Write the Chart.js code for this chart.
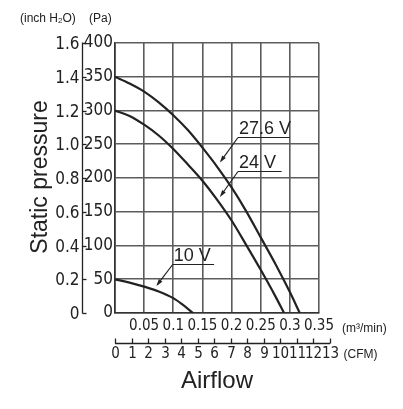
<!DOCTYPE html>
<html>
<head>
<meta charset="utf-8">
<script src="https://cdn.jsdelivr.net/npm/chart.js@4.4.0/dist/chart.umd.min.js"></script>
<style>
html, body { margin: 0; padding: 0; background: #fff; }
#wrap { width: 403px; height: 409px; }
</style>
</head>
<body>
<div id="wrap"><canvas id="myChart"></canvas></div>
<script>
// airflow in m3/min, static pressure in Pa
var flow276 = [0, 0.025, 0.05, 0.075, 0.1, 0.125, 0.15, 0.175, 0.2, 0.225, 0.25, 0.275, 0.3, 0.317];
var pres276 = [350, 340, 328, 312, 293, 271, 245, 217, 186, 151, 112, 73, 31, 0];
var flow24 = [0, 0.025, 0.05, 0.075, 0.1, 0.125, 0.15, 0.175, 0.2, 0.225, 0.25, 0.275, 0.29];
var pres24 = [300, 292, 279, 263, 243, 220, 196, 168, 137, 101, 64, 25, 0];
var flow10 = [0, 0.025, 0.05, 0.075, 0.1, 0.115, 0.134];
var pres10 = [50, 45, 39, 32, 22, 13, 0];
var seriesNames = ['27.6 V', '24 V', '10 V'];

// tick values / labels
var paTicks = [0, 50, 100, 150, 200, 250, 300, 350, 400];
var inchTicks = [0, 0.2, 0.4, 0.6, 0.8, 1.0, 1.2, 1.4, 1.6];
var inchLabels = ['0', '0.2', '0.4', '0.6', '0.8', '1.0', '1.2', '1.4', '1.6'];
var flowTicks = [0, 0.05, 0.1, 0.15, 0.2, 0.25, 0.3, 0.35];
var flowLabels = ['', '0.05', '0.1', '0.15', '0.2', '0.25', '0.3', '0.35'];
var cfmTicks = [0, 1, 2, 3, 4, 5, 6, 7, 8, 9, 10, 11, 12, 13];

var PA_PER_INCH = 250;        // the chart lines 1.6 inch up with 400 Pa
var CFM_PER_M3MIN = 35.3147;

var NARROW = "'Liberation Sans Narrow', 'DejaVu Sans Condensed', 'Roboto Condensed', sans-serif";
var SANS = "'Liberation Sans', Arial, sans-serif";
var INK = '#222';
var GRID = '#5c5c5c';

function pts(xs, ys) {
    var out = [];
    for (var i = 0; i < xs.length; i++) out.push({x: xs[i], y: ys[i]});
    return out;
}

function curve(name, xs, ys) {
    return {
        label: name,
        data: pts(xs, ys),
        showLine: true,
        borderColor: INK,
        borderWidth: 2.2,
        pointRadius: 0,
        cubicInterpolationMode: 'monotone',
        fill: false
    };
}

// label leaders, in data units (m3/min, Pa)
var notes = [
    {text: seriesNames[0], x0: 0.211, x1: 0.300, y: 261, tipX: 0.180, tipY: 223},
    {text: seriesNames[1], x0: 0.211, x1: 0.286, y: 211, tipX: 0.180, tipY: 172},
    {text: seriesNames[2], x0: 0.099, x1: 0.170, y: 72, tipX: 0.071, tipY: 40}
];

function arrow(ctx, xa, ya, xb, yb) {
    var ang = Math.atan2(yb - ya, xb - xa);
    var len = 7, w = 2.2;
    ctx.beginPath();
    ctx.moveTo(xa, ya);
    ctx.lineTo(xb - Math.cos(ang) * 2, yb - Math.sin(ang) * 2);
    ctx.stroke();
    ctx.beginPath();
    ctx.moveTo(xb, yb);
    ctx.lineTo(xb - len * Math.cos(ang) + w * Math.sin(ang), yb - len * Math.sin(ang) - w * Math.cos(ang));
    ctx.lineTo(xb - len * Math.cos(ang) - w * Math.sin(ang), yb - len * Math.sin(ang) + w * Math.cos(ang));
    ctx.closePath();
    ctx.fill();
}

var extras = {
    id: 'extras',
    afterDraw: function(chart) {
        var ctx = chart.ctx;
        var xs = chart.scales.x, ys = chart.scales.y;
        var area = chart.chartArea;
        ctx.save();
        ctx.strokeStyle = INK;
        ctx.fillStyle = INK;
        ctx.lineWidth = 1.3;

        // inch H2O axis
        var ax = Math.round(ys.left) + 0.5;
        ctx.beginPath();
        ctx.moveTo(ax, ys.getPixelForValue(0) + 0.5);
        ctx.lineTo(ax, ys.getPixelForValue(400) - 0.5);
        ctx.stroke();
        ctx.font = '17px ' + NARROW;
        ctx.textAlign = 'right';
        ctx.textBaseline = 'middle';
        for (var i = 0; i < inchTicks.length; i++) {
            var py = Math.round(ys.getPixelForValue(inchTicks[i] * PA_PER_INCH)) + 0.5;
            ctx.beginPath();
            ctx.moveTo(ax, py);
            ctx.lineTo(ax + 4, py);
            ctx.stroke();
            ctx.fillText(inchLabels[i], ax - 3, py + 1);
        }

        // CFM axis
        var cy = Math.round(xs.bottom) + 0.5;
        var cx0 = xs.getPixelForValue(0);
        var cx1 = xs.getPixelForValue(cfmTicks[cfmTicks.length - 1] / CFM_PER_M3MIN);
        ctx.beginPath();
        ctx.moveTo(cx0, cy);
        ctx.lineTo(cx1 + 0.5, cy);
        ctx.stroke();
        ctx.font = '15px ' + NARROW;
        ctx.textAlign = 'center';
        ctx.textBaseline = 'middle';
        for (var j = 0; j < cfmTicks.length; j++) {
            var px = Math.round(xs.getPixelForValue(cfmTicks[j] / CFM_PER_M3MIN)) + 0.5;
            ctx.beginPath();
            ctx.moveTo(px, cy);
            ctx.lineTo(px, cy - 5);
            ctx.stroke();
            ctx.fillText(String(cfmTicks[j]), px, cy + 11);
        }

        // units
        ctx.font = '12px ' + SANS;
        ctx.textAlign = 'left';
        ctx.fillText('(CFM)', cx1 + 14, cy + 11);
        ctx.fillText('(m\u00b3/min)', area.right + 23, area.bottom + 16);

        ctx.textBaseline = 'alphabetic';
        var tx = 20, ty = 22;
        ctx.fillText('(inch H', tx, ty);
        tx += ctx.measureText('(inch H').width;
        ctx.font = '8px ' + SANS;
        ctx.fillText('2', tx, ty + 1);
        tx += ctx.measureText('2').width;
        ctx.font = '12px ' + SANS;
        ctx.fillText('O)', tx, ty);
        ctx.fillText('(Pa)', 89, ty);

        // axis titles
        ctx.font = '24px ' + SANS;
        ctx.textAlign = 'center';
        ctx.fillText('Airflow', (area.left + area.right) / 2, 388);
        ctx.save();
        ctx.translate(47, 177);
        ctx.rotate(-Math.PI / 2);
        ctx.font = '23px ' + SANS;
        ctx.fillText('Static pressure', 0, 0);
        ctx.restore();

        // curve labels
        ctx.font = '18px ' + SANS;
        ctx.textAlign = 'left';
        ctx.lineWidth = 1.2;
        notes.forEach(function(n) {
            var lx0 = xs.getPixelForValue(n.x0), lx1 = xs.getPixelForValue(n.x1);
            var ly = Math.round(ys.getPixelForValue(n.y)) + 0.5;
            ctx.fillText(n.text, lx0 + 1, ly - 4);
            ctx.beginPath();
            ctx.moveTo(lx0, ly);
            ctx.lineTo(lx1, ly);
            ctx.stroke();
            arrow(ctx, lx0, ly, xs.getPixelForValue(n.tipX), ys.getPixelForValue(n.tipY));
        });
        ctx.restore();
    }
};

var ctx = document.getElementById('myChart');
var myChart = new Chart(ctx, {
    type: 'scatter',
    data: {
        datasets: [
            curve(seriesNames[0], flow276, pres276),
            curve(seriesNames[1], flow24, pres24),
            curve(seriesNames[2], flow10, pres10)
        ]
    },
    options: {
        responsive: true,
        maintainAspectRatio: false,
        animation: false,
        events: [],
        layout: {padding: {left: 82, top: 43, right: 84, bottom: 66}},
        plugins: {legend: {display: false}, tooltip: {enabled: false}},
        scales: {
            x: {
                type: 'linear',
                min: 0,
                max: 0.35,
                afterBuildTicks: function(s) { s.ticks = flowTicks.map(function(v) { return {value: v}; }); },
                afterFit: function(s) { s.height = 30; },
                grid: {color: GRID, lineWidth: 1.6, drawTicks: false},
                border: {color: '#333', width: 1.6},
                ticks: {
                    padding: 4,
                    color: INK,
                    maxRotation: 0,
                    autoSkip: false,
                    font: {family: NARROW, size: 15},
                    callback: function(v, i) { return flowLabels[i]; }
                }
            },
            y: {
                type: 'linear',
                min: 0,
                max: 400,
                afterBuildTicks: function(s) { s.ticks = paTicks.map(function(v) { return {value: v}; }); },
                afterFit: function(s) { s.width = 33; },
                grid: {color: GRID, lineWidth: 1.6, drawTicks: false},
                border: {color: '#333', width: 1.6},
                ticks: {
                    padding: 2,
                    color: INK,
                    autoSkip: false,
                    font: {family: NARROW, size: 17},
                    callback: function(v, i) { return String(paTicks[i]); }
                }
            }
        }
    },
    plugins: [extras]
});
</script>
</body>
</html>
